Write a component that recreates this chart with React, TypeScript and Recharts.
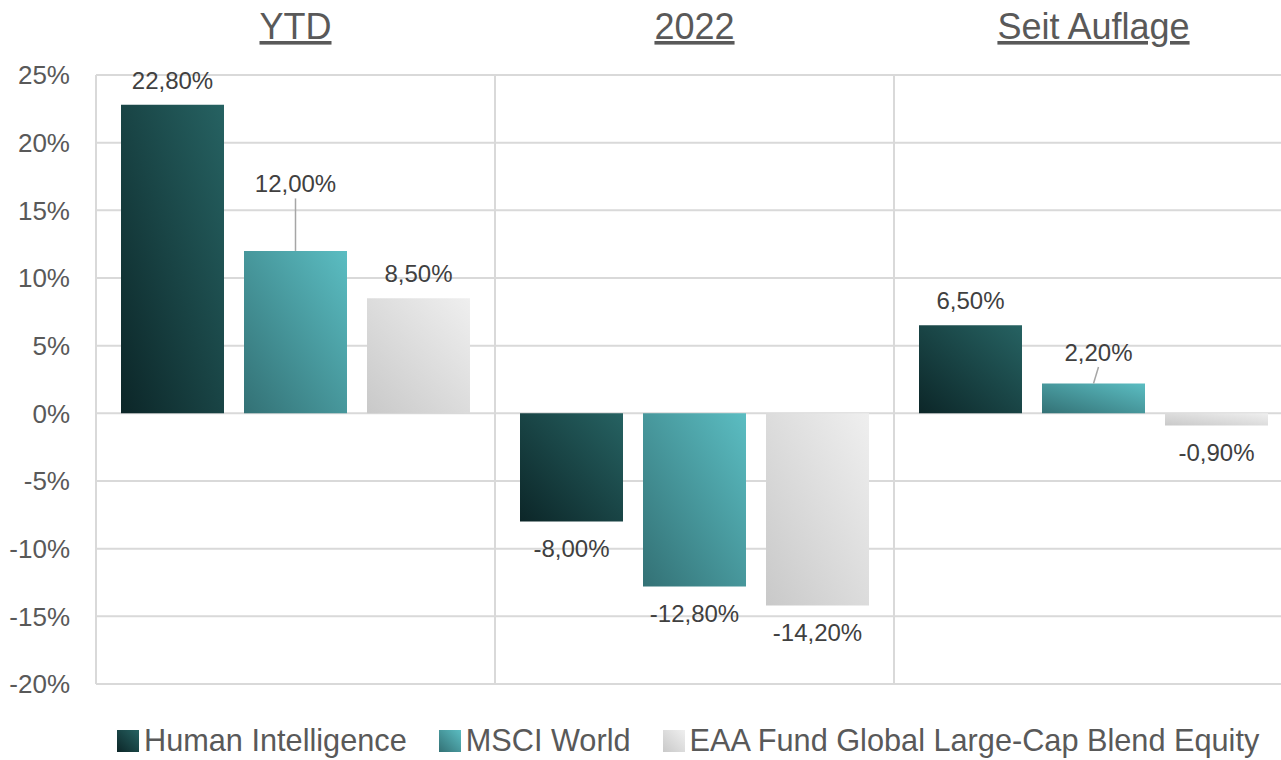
import React from 'react';
import { BarChart, Bar, XAxis, YAxis, CartesianGrid, Legend, LabelList } from 'recharts';

const categories = ['YTD', '2022', 'Seit Auflage'];
const humanIntelligence = [22.8, -8.0, 6.5];
const msciWorld = [12.0, -12.8, 2.2];
const eaaFund = [8.5, -14.2, -0.9];
const yTicks = [-20, -15, -10, -5, 0, 5, 10, 15, 20, 25];
const seriesNames = ['Human Intelligence', 'MSCI World', 'EAA Fund Global Large-Cap Blend Equity'];
const seriesKeys = ['hi', 'msci', 'eaa'];

const data = categories.map((c, i) => ({
  category: c,
  hi: humanIntelligence[i],
  msci: msciWorld[i],
  eaa: eaaFund[i],
}));

const gradients = [
  { id: 'gHI', from: '#0c2628', to: '#266262' },
  { id: 'gMSCI', from: '#337175', to: '#5bbdc2' },
  { id: 'gEAA', from: '#c9c9c9', to: '#efefef' },
];

const FONT = '"Liberation Sans", Arial, sans-serif';

const fmt = (v: number) => v.toFixed(2).replace('.', ',') + '%';

// label lift (px) and horizontal shift for labels that use a leader line
const labelLift: Record<string, number[]> = { hi: [0, 0, 0], msci: [43, 0, 7], eaa: [0, 0, 0] };
const labelShift: Record<string, number[]> = { hi: [0, 0, 0], msci: [0, 0, 5], eaa: [0, 0, 0] };

const makeLabel = (key: string) => (props: any) => {
  const { x, y, width, height, value, index } = props;
  const top = Math.min(y, y + height);
  const bottom = Math.max(y, y + height);
  const cx = x + width / 2;
  const lift = labelLift[key][index] || 0;
  const dx = labelShift[key][index] || 0;
  const ty = value >= 0 ? top - 24.5 - lift : bottom + 27;
  return (
    <g>
      {lift > 0 && (
        <line x1={cx + dx} y1={ty + 15} x2={cx} y2={top} stroke="#a6a6a6" strokeWidth={1.5} />
      )}
      <text
        x={cx + dx}
        y={ty}
        textAnchor="middle"
        dominantBaseline="central"
        fill="#404040"
        fontSize={24}
        fontFamily={FONT}
      >
        {fmt(value)}
      </text>
    </g>
  );
};

const TopTick = (props: any) => {
  const { x, y, payload } = props;
  return (
    <text
      x={x}
      y={y - 36}
      textAnchor="middle"
      fill="#595959"
      fontSize={36}
      fontFamily={FONT}
      style={{ textDecoration: 'underline' }}
    >
      {payload.value}
    </text>
  );
};

const renderLegend = () => (
  <div
    style={{
      display: 'flex',
      justifyContent: 'flex-start',
      alignItems: 'center',
      fontFamily: FONT,
      fontSize: 30.7,
      color: '#595959',
      whiteSpace: 'nowrap',
    }}
  >
    {seriesNames.map((name, i) => (
      <div key={name} style={{ display: 'flex', alignItems: 'center', marginLeft: i === 0 ? 0 : 32 }}>
        <svg width={22} height={22} style={{ marginRight: 5 }}>
          <defs>
            <linearGradient id={`leg${i}`} x1="0" y1="1" x2="1" y2="0">
              <stop offset="0%" stopColor={gradients[i].from} />
              <stop offset="100%" stopColor={gradients[i].to} />
            </linearGradient>
          </defs>
          <rect x={0} y={0} width={22} height={22} fill={`url(#leg${i})`} />
        </svg>
        <span style={{ lineHeight: '34px' }}>{name}</span>
      </div>
    ))}
  </div>
);

export default function App() {
  return (
    <div
      style={{
        position: 'absolute',
        left: 0,
        top: 0,
        width: 1281,
        height: 760,
        overflow: 'hidden',
        background: '#fff',
      }}
    >
      <BarChart
        width={1294}
        height={760}
        data={data}
        margin={{ top: 0, right: 1, bottom: 76, left: 0 }}
        barCategoryGap={25}
        barGap={20}
      >
        <defs>
          {gradients.map((g) => (
            <linearGradient key={g.id} id={g.id} x1="0" y1="1" x2="1" y2="0">
              <stop offset="0%" stopColor={g.from} />
              <stop offset="100%" stopColor={g.to} />
            </linearGradient>
          ))}
        </defs>
        <CartesianGrid
          stroke="#d9d9d9"
          strokeWidth={2}
          verticalCoordinatesGenerator={({ offset }: any) =>
            [0, 1, 2].map((i) => offset.left + (i * offset.width) / categories.length)
          }
        />
        <XAxis
          dataKey="category"
          orientation="top"
          height={75}
          axisLine={false}
          tickLine={false}
          tickSize={0}
          tickMargin={0}
          tick={<TopTick />}
          interval={0}
        />
        <YAxis
          width={96}
          domain={[-20, 25]}
          ticks={yTicks}
          interval={0}
          axisLine={false}
          tickLine={false}
          tickSize={0}
          tickMargin={26}
          tickFormatter={(v: number) => `${v}%`}
          tick={{ fill: '#595959', fontSize: 26, fontFamily: FONT }}
        />
        {seriesKeys.map((k, i) => (
          <Bar key={k} dataKey={k} name={seriesNames[i]} fill={`url(#${gradients[i].id})`} isAnimationActive={false}>
            <LabelList dataKey={k} content={makeLabel(k)} />
          </Bar>
        ))}
        <Legend
          verticalAlign="middle"
          align="center"
          layout="horizontal"
          wrapperStyle={{ top: 724, left: 117, width: 1170, height: 36 }}
          content={renderLegend}
        />
      </BarChart>
    </div>
  );
}
